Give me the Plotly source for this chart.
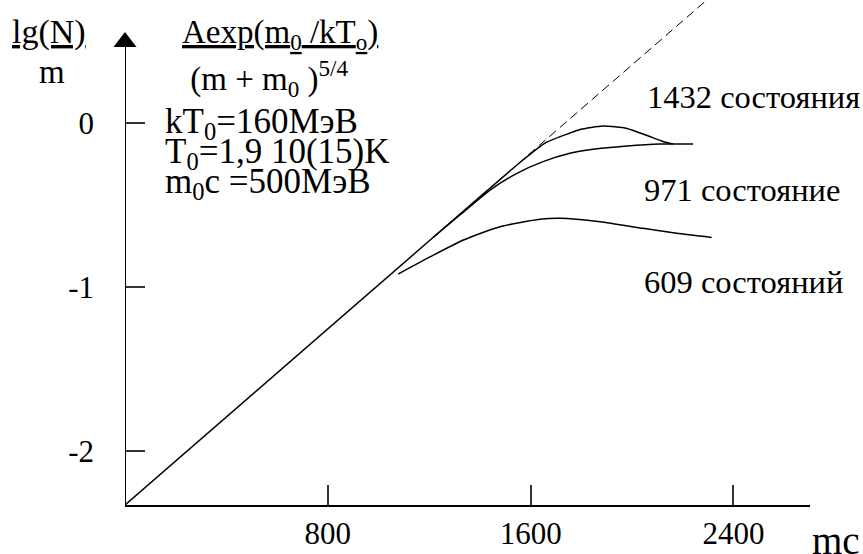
import plotly.graph_objects as go

# ---------------- data ----------------
# theoretical straight line lg(N)/m  (solid part and dashed continuation)
theory_solid_x = [0, 1215]
theory_solid_y = [-2.327, -0.699]
theory_dash_x = [1215, 2295]
theory_dash_y = [-0.699, 0.747]

# 1432 states
s1432_x = [1215, 1400, 1558, 1657, 1755, 1795, 1886, 1980, 2059, 2122, 2162]
s1432_y = [-0.699, -0.451, -0.242, -0.124, -0.063, -0.041, -0.020, -0.035, -0.078, -0.114, -0.130]

# 971 states
s971_x = [1215, 1321, 1440, 1546, 1649, 1755, 1846, 1980, 2110, 2241]
s971_y = [-0.699, -0.562, -0.410, -0.308, -0.237, -0.186, -0.162, -0.142, -0.130, -0.130]

# 609 states
s609_x = [1078, 1203, 1335, 1479, 1637, 1716, 1874, 2043, 2176, 2314]
s609_y = [-0.921, -0.817, -0.714, -0.633, -0.588, -0.582, -0.603, -0.643, -0.673, -0.698]

x_tick_vals = [800, 1600, 2400]
x_tick_text = ["800", "1600", "2400"]
y_tick_vals = [0, -1, -2]
y_tick_text = ["0", "-1", "-2"]

labels = ["1432 состояния", "971 состояние", "609 состояний"]

# ---------------- layout geometry ----------------
W, H = 863, 554
L, R, T, B = 125, 53, 0, 49
X_RANGE = [0, 2702]
Y_RANGE = [-2.327, 0.747]
FONT = "Liberation Serif, Times New Roman, serif"

plot_w = W - L - R
plot_h = H - T - B


def paper(px, py):
    return (px - L) / plot_w, (H - B - py) / plot_h


fig = go.Figure()

line_style = dict(color="black", width=1.5)
fig.add_trace(go.Scatter(x=theory_solid_x, y=theory_solid_y, mode="lines",
                         line=line_style, hoverinfo="skip"))
fig.add_trace(go.Scatter(x=theory_dash_x, y=theory_dash_y, mode="lines",
                         line=dict(color="black", width=1, dash="9px,5px"),
                         hoverinfo="skip"))
for xs, ys in [(s1432_x, s1432_y), (s971_x, s971_y), (s609_x, s609_y)]:
    fig.add_trace(go.Scatter(x=xs, y=ys, mode="lines",
                             line=dict(color="black", width=1.5, shape="spline", smoothing=0.6),
                             hoverinfo="skip"))

# axis arrow heads (placed just beyond the axis ends)
px_per_x = plot_w / (X_RANGE[1] - X_RANGE[0])
px_per_y = plot_h / (Y_RANGE[1] - Y_RANGE[0])
y_arrow = Y_RANGE[1] - 42 / px_per_y
x_arrow = X_RANGE[1] + 9 / px_per_x
fig.add_trace(go.Scatter(x=[0], y=[y_arrow], mode="markers", cliponaxis=False,
                         marker=dict(symbol="triangle-up", size=20, color="black"),
                         hoverinfo="skip"))
fig.add_trace(go.Scatter(x=[x_arrow], y=[Y_RANGE[0]], mode="markers", cliponaxis=False,
                         marker=dict(symbol="triangle-right", size=20, color="black"),
                         hoverinfo="skip"))

# y axis line (stops at the arrow)
fig.add_shape(type="line", xref="x", yref="y", x0=0, x1=0, y0=Y_RANGE[0], y1=y_arrow,
              line=dict(color="black", width=2))

annotations = []


def add_text(text, px, py, size, xanchor="left"):
    xp, yp = paper(px, py)
    annotations.append(dict(text=text, x=xp, y=yp, xref="paper", yref="paper",
                            xanchor=xanchor, yanchor="middle", showarrow=False,
                            font=dict(family=FONT, size=size, color="black")))


add_text("<u>lg(N)</u>", 49, 32, 34, "center")
add_text("m", 52, 72, 33, "center")
add_text("<u>Aexp(m<sub>0</sub> /kT<sub>o</sub>)</u>", 180, 35, 33)
add_text(" (m + m<sub>0</sub> )<sup>5/4</sup>", 180, 78, 33)
add_text("kT<sub>0</sub>=160МэВ", 163, 123, 35)
add_text("T<sub>0</sub>=1,9 10(15)K", 163, 153, 35)
add_text("m<sub>0</sub>c =500МэВ", 163, 183, 35)
add_text(labels[0], 645, 97, 32.5)
add_text(labels[1], 642, 190, 32.5)
add_text(labels[2], 642, 282, 32.5)
add_text("mc", 810, 540, 39)

fig.update_layout(
    width=W, height=H,
    margin=dict(l=L, r=R, t=T, b=B),
    paper_bgcolor="white", plot_bgcolor="white",
    showlegend=False,
    annotations=annotations,
    xaxis=dict(range=X_RANGE, showgrid=False, zeroline=False, showline=True,
               linecolor="black", linewidth=2,
               tickmode="array", tickvals=x_tick_vals, ticktext=x_tick_text,
               ticks="inside", ticklen=20, tickwidth=1.5, tickcolor="#333",
               tickfont=dict(family=FONT, size=31, color="black"),
               ticklabelstandoff=0),
    yaxis=dict(range=Y_RANGE, showgrid=False, zeroline=False, showline=False,
               tickmode="array", tickvals=y_tick_vals, ticktext=y_tick_text,
               ticks="inside", ticklen=20, tickwidth=1.5, tickcolor="#333",
               tickfont=dict(family=FONT, size=31, color="black"),
               ticklabelstandoff=30),
)

fig.write_html("out.html", config={"displayModeBar": False},
               post_script="document.body.style.margin='0';")
